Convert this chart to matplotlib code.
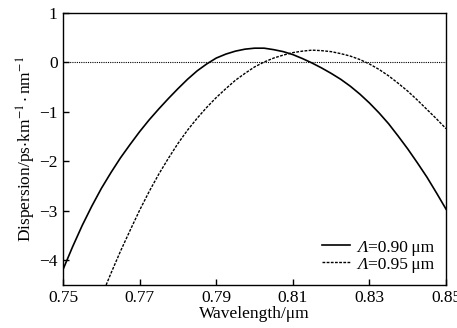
import matplotlib
matplotlib.use("Agg")
import matplotlib.pyplot as plt

plt.rcParams['font.family'] = ['Liberation Serif', 'DejaVu Serif']
plt.rcParams['mathtext.fontset'] = 'stix'

# wavelength grid (um) and dispersion (ps/km/nm)
wl = [0.7500, 0.7525, 0.7550, 0.7575, 0.7600, 0.7625, 0.7650, 0.7675, 0.7700, 0.7725,
      0.7750, 0.7775, 0.7800, 0.7825, 0.7850, 0.7875, 0.7900, 0.7925, 0.7950, 0.7975,
      0.8000, 0.8025, 0.8050, 0.8075, 0.8100, 0.8125, 0.8150, 0.8175, 0.8200, 0.8225,
      0.8250, 0.8275, 0.8300, 0.8325, 0.8350, 0.8375, 0.8400, 0.8425, 0.8450, 0.8475,
      0.8500]
d_090 = [-4.19, -3.73, -3.30, -2.91, -2.55, -2.23, -1.93, -1.66, -1.40, -1.16,
         -0.94, -0.73, -0.53, -0.34, -0.17, -0.03, 0.09, 0.17, 0.23, 0.27,
         0.29, 0.29, 0.26, 0.22, 0.16, 0.08, -0.01, -0.11, -0.22, -0.34,
         -0.48, -0.64, -0.82, -1.02, -1.24, -1.49, -1.75, -2.03, -2.32, -2.64,
         -2.97]
# the 0.95 um curve enters the frame at about 0.761 um
wl_095 = wl[4:]
d_095 = [-4.74, -4.27, -3.82, -3.40, -2.99, -2.61,
         -2.26, -1.94, -1.64, -1.37, -1.13, -0.91, -0.71, -0.53, -0.36, -0.22,
         -0.09, 0.01, 0.09, 0.15, 0.20, 0.23, 0.25, 0.24, 0.22, 0.18,
         0.13, 0.06, -0.03, -0.14, -0.27, -0.42, -0.58, -0.76, -0.95, -1.14,
         -1.34]

# legend: italic Lambda is drawn separately in front of each label
labels = ["=0.90\u2009μm", "=0.95\u2009μm"]
xticks = [0.75, 0.77, 0.79, 0.81, 0.83, 0.85]
yticks = [-4, -3, -2, -1, 0, 1]

fig = plt.figure(figsize=(4.57, 3.28), dpi=100)
ax = fig.add_axes([0.138, 0.132, 0.838, 0.828])

ax.axhline(0, color='black', lw=0.8, ls=(0, (1, 1)), zorder=1)
ax.plot(wl, d_090, color='black', lw=1.2, label=labels[0])
ax.plot(wl_095, d_095, color='black', lw=1.0, ls=(0, (2, 1)), label=labels[1])

ax.set_xlim(0.75, 0.85)
ax.set_ylim(-4.5, 1)
ax.set_xticks(xticks)
ax.set_xticklabels([f"{t:.2f}" for t in xticks])
ax.set_yticks(yticks)
ax.set_yticklabels([("\u2212" if t < 0 else "") + str(abs(t)) for t in yticks])
ax.tick_params(direction='in', length=4, width=1, labelsize=12.5, top=False, right=False, pad=4)
for s in ax.spines.values():
    s.set_linewidth(1.0)

ax.set_xlabel("Wavelength/μm", fontsize=12.5, labelpad=0)
ax.set_ylabel(r"Dispersion/ps$\cdot$km$^{-1}\cdot$nm$^{-1}$", fontsize=12.5, labelpad=1)

leg = ax.legend(loc='lower right', frameon=False, fontsize=12.5, handlelength=1.6,
                handletextpad=1.05, labelspacing=0.05, borderaxespad=0.3)

fig.canvas.draw()
inv = fig.transFigure.inverted()
for t in leg.get_texts():
    bb = t.get_window_extent()
    x0, y0 = inv.transform((bb.x0, bb.y0))
    fig.text(x0, y0, "Λ", ha='right', va='bottom', fontsize=12.5,
             fontstyle='italic', family='Liberation Serif')

fig.savefig("out.png", dpi=100)
